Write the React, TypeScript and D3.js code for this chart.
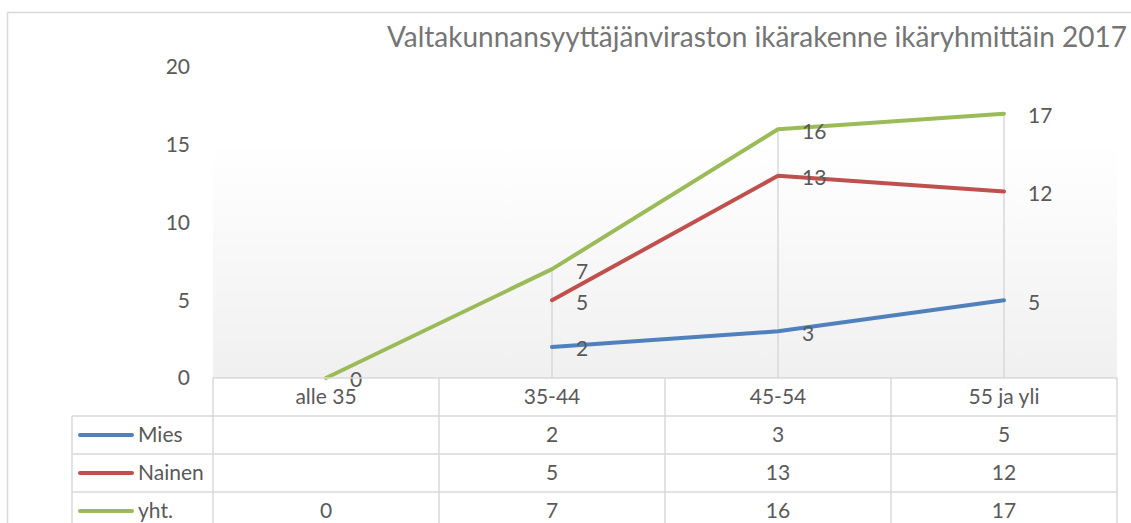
import React from 'react';
import * as d3 from 'd3';

const categories = ["alle 35", "35-44", "45-54", "55 ja yli"];
const mies: (number | null)[] = [null, 2, 3, 5];
const nainen: (number | null)[] = [null, 5, 13, 12];
const yht: (number | null)[] = [0, 7, 16, 17];
const yTicks = [0, 5, 10, 15, 20];

const series = [
    { name: "Mies", values: mies, color: "#4f81bd" },
    { name: "Nainen", values: nainen, color: "#c0504d" },
    { name: "yht.", values: yht, color: "#9bbb59" },
];

const FONT = "Lato, 'Open Sans', sans-serif";
const TEXT = "#595959";
const GRID = "#d9d9d9";
const FS = 21;

const App = () => {
    const width = 1131;
    const height = 523;
    const plot = { left: 213, right: 1117, top: 67, bottom: 378 };
    const rowH = 38;
    const legendLeft = 72;

    const x = d3.scaleBand().domain(categories).range([plot.left, plot.right]).padding(0);
    const cx = (c: string) => (x(c) as number) + x.bandwidth() / 2;
    const y = d3.scaleLinear().domain([0, 20]).range([plot.bottom, plot.top]);

    const line = d3.line<number | null>()
        .defined(d => d !== null)
        .x((_, i) => cx(categories[i]))
        .y(d => y(d as number));

    // drop lines from highest point to axis
    const maxAt = categories.map((_, i) => d3.max(series, s => s.values[i] ?? undefined));

    const headerTop = plot.bottom;
    const rowTop = (r: number) => headerTop + rowH * (r + 1);

    return (
        <svg width={width} height={height} style={{ position: 'absolute', left: 0, top: 0, background: '#fff' }}>
            <defs>
                <linearGradient id="plotbg" x1="0" y1="0" x2="0" y2="1">
                    <stop offset="0%" stopColor="#ffffff" />
                    <stop offset="25%" stopColor="#ffffff" />
                    <stop offset="100%" stopColor="#f0f0f0" />
                </linearGradient>
            </defs>
            <rect x={7.5} y={12.5} width={1300} height={700} fill="#fff" stroke={GRID} strokeWidth={1.5} />
            <rect x={plot.left} y={plot.top} width={plot.right - plot.left} height={plot.bottom - plot.top} fill="url(#plotbg)" />

            <text x={1127} y={47} textAnchor="end" fontFamily={FONT} fontSize={28} fill="#757575">
                Valtakunnansyyttäjänviraston ikärakenne ikäryhmittäin 2017
            </text>

            {yTicks.map(t => (
                <text key={t} x={190} y={y(t)} dy="0.35em" textAnchor="end" fontFamily={FONT} fontSize={FS} fill={TEXT}>{t}</text>
            ))}

            {categories.map((c, i) => maxAt[i] !== undefined && maxAt[i]! > 0 ? (
                <line key={c} x1={cx(c)} x2={cx(c)} y1={y(maxAt[i]!)} y2={plot.bottom} stroke={GRID} strokeWidth={1.5} />
            ) : null)}

            {series.map(s => (
                <path key={s.name} d={line(s.values) || ''} fill="none" stroke={s.color} strokeWidth={4} strokeLinecap="round" strokeLinejoin="round" />
            ))}

            {series.map(s => s.values.map((v, i) => v === null ? null : (
                <text key={s.name + i} x={cx(categories[i]) + 24} y={y(v) + 2} dy="0.35em" fontFamily={FONT} fontSize={FS} fill={TEXT}>{v}</text>
            )))}

            {/* data table */}
            <g stroke={GRID} strokeWidth={1.5} fill="none">
                <line x1={plot.left} x2={plot.right} y1={headerTop} y2={headerTop} />
                {series.map((s, r) => (
                    <line key={s.name} x1={legendLeft} x2={plot.right} y1={rowTop(r)} y2={rowTop(r)} />
                ))}
                <line x1={legendLeft} x2={legendLeft} y1={rowTop(0)} y2={height + 10} />
                {categories.map(c => (
                    <line key={c} x1={x(c) as number} x2={x(c) as number} y1={headerTop} y2={height + 10} />
                ))}
                <line x1={plot.right} x2={plot.right} y1={headerTop} y2={height + 10} />
            </g>
            {categories.map(c => (
                <text key={c} x={cx(c)} y={headerTop + rowH / 2} dy="0.35em" textAnchor="middle" fontFamily={FONT} fontSize={FS} fill={TEXT}>{c}</text>
            ))}
            {series.map((s, r) => {
                const mid = rowTop(r) + rowH / 2;
                return (
                    <g key={s.name}>
                        <line x1={80} x2={132} y1={mid} y2={mid} stroke={s.color} strokeWidth={4} strokeLinecap="round" />
                        <text x={138} y={mid} dy="0.35em" fontFamily={FONT} fontSize={FS} fill={TEXT}>{s.name}</text>
                        {s.values.map((v, i) => v === null ? null : (
                            <text key={i} x={cx(categories[i])} y={mid} dy="0.35em" textAnchor="middle" fontFamily={FONT} fontSize={FS} fill={TEXT}>{v}</text>
                        ))}
                    </g>
                );
            })}
        </svg>
    );
};

export default App;
